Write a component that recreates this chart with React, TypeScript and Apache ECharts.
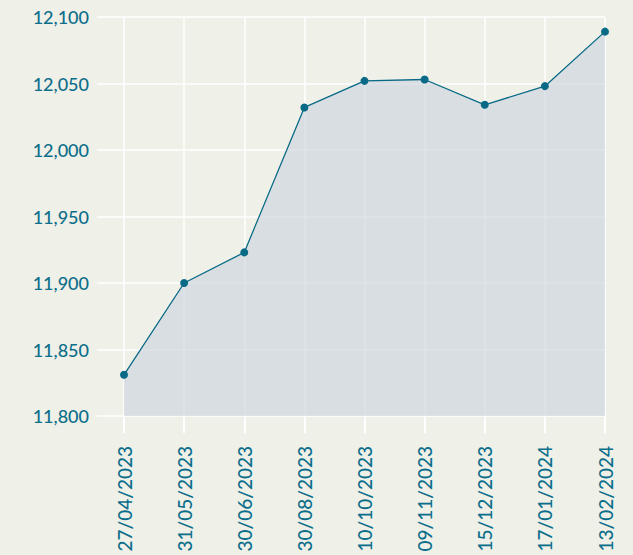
import React, { useEffect, useRef } from "react";
import * as echarts from "echarts";

const categories = [
  "27/04/2023",
  "31/05/2023",
  "30/06/2023",
  "30/08/2023",
  "10/10/2023",
  "09/11/2023",
  "15/12/2023",
  "17/01/2024",
  "13/02/2024",
];
const values = [11831, 11900, 11923, 12032, 12052, 12053, 12034, 12048, 12089];
const yMin = 11800;
const yMax = 12100;
const yInterval = 50;

const TEXT = "#0b6e8a";
const LINE = "#086a86";
const BG = "#eff0e8";
const FONT = "Lato, 'Open Sans', sans-serif";

export default function App() {
  const ref = useRef<HTMLDivElement>(null);
  useEffect(() => {
    if (!ref.current) return;
    const chart = echarts.init(ref.current, null, { renderer: "svg" });
    chart.setOption({
      animation: false,
      backgroundColor: BG,
      grid: [
        { left: 97, right: 28, top: 17, bottom: 139 },
        { left: 124, right: 28, top: 17, bottom: 139 },
      ],
      xAxis: [
        { type: "value", gridIndex: 0, show: false, min: 0, max: 1 },
        {
          type: "category",
          gridIndex: 1,
          data: categories,
          boundaryGap: false,
          axisLine: { show: false },
          axisTick: { show: true, length: 17, lineStyle: { color: "#ffffff", width: 2 } },
          splitLine: { show: true, lineStyle: { color: "#ffffff", width: 1.5 } },
          axisLabel: {
            rotate: 90,
            margin: 30,
            color: TEXT,
            fontSize: 19,
            fontWeight: 500,
            fontFamily: FONT,
            interval: 0,
          },
        },
      ],
      yAxis: [
        {
          type: "value",
          gridIndex: 0,
          min: yMin,
          max: yMax,
          interval: yInterval,
          axisLine: { show: false },
          axisTick: { show: false },
          splitLine: { show: true, lineStyle: { color: "#ffffff", width: 1.5 } },
          axisLabel: {
            margin: 8,
            color: TEXT,
            fontSize: 18,
            fontWeight: 500,
            fontFamily: FONT,
            formatter: (v: number) => v.toLocaleString("en-US"),
          },
        },
        {
          type: "value",
          gridIndex: 1,
          min: yMin,
          max: yMax,
          interval: yInterval,
          show: false,
          splitLine: { show: false },
        },
      ],
      series: [
        {
          type: "line",
          xAxisIndex: 1,
          yAxisIndex: 1,
          data: values,
          symbol: "circle",
          symbolSize: 8,
          itemStyle: { color: LINE },
          lineStyle: { color: LINE, width: 1.3 },
          areaStyle: { color: "rgba(200,210,219,0.85)", origin: "start" },
        },
      ],
    });
    return () => chart.dispose();
  }, []);
  return (
    <div
      ref={ref}
      style={{ position: "fixed", left: 0, top: 0, width: 633, height: 555 }}
    />
  );
}
